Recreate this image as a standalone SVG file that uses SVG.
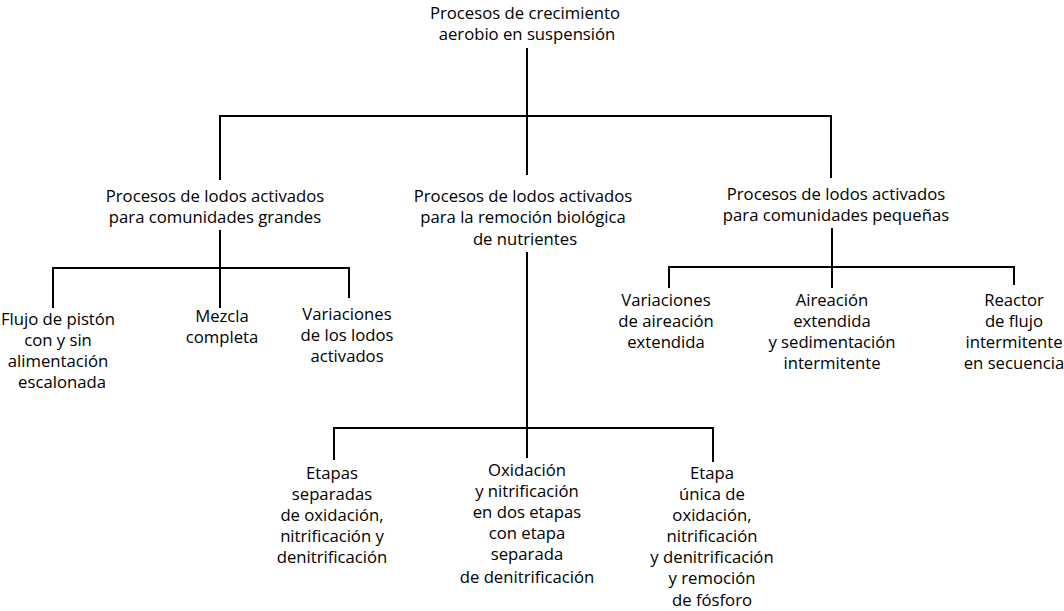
<svg xmlns="http://www.w3.org/2000/svg" width="1064" height="611" viewBox="0 0 1064 611">
<style>
text{font-family:"Open Sans","Noto Sans","DejaVu Sans",sans-serif;font-size:16.7px;fill:#000;text-anchor:middle}
.c{fill:none;stroke:#000;stroke-width:2}
</style>
<rect width="1064" height="611" fill="#fff"/>
<g id="connectors">
<path class="c" d="M527 48V175M220 180V116H831V178"/>
<path class="c" d="M220 230V268M53 308V268H349V298M220 268V308"/>
<path class="c" d="M527 252V458M334 460V428H713V462"/>
<path class="c" d="M832 228V288M669 288V267H1014V285"/>
</g>
<g id="root"><text x="525" y="19">Procesos de crecimiento</text><text x="527" y="40">aerobio en suspensión</text></g>
<g id="grandes"><text x="215" y="202">Procesos de lodos activados</text><text x="215" y="223">para comunidades grandes</text></g>
<g id="nutrientes"><text x="523" y="202">Procesos de lodos activados</text><text x="523" y="223">para la remoción biológica</text><text x="525" y="245">de nutrientes</text></g>
<g id="pequenas"><text x="836" y="200">Procesos de lodos activados</text><text x="836" y="221">para comunidades pequeñas</text></g>
<g id="piston"><text x="58" y="325">Flujo de pistón</text><text x="58" y="346">con y sin</text><text x="58" y="367">alimentación</text><text x="62" y="388">escalonada</text></g>
<g id="mezcla"><text x="222" y="322">Mezcla</text><text x="222" y="343">completa</text></g>
<g id="variaciones-lodos"><text x="347" y="320">Variaciones</text><text x="347" y="341">de los lodos</text><text x="347" y="362">activados</text></g>
<g id="etapas-separadas"><text x="332" y="479">Etapas</text><text x="332" y="500">separadas</text><text x="332" y="521">de oxidación,</text><text x="332" y="542">nitrificación y</text><text x="332" y="563">denitrificación</text></g>
<g id="oxidacion"><text x="527" y="476">Oxidación</text><text x="527" y="497">y nitrificación</text><text x="527" y="518">en dos etapas</text><text x="527" y="539">con etapa</text><text x="527" y="560">separada</text><text x="527" y="583">de denitrificación</text></g>
<g id="etapa-unica"><text x="712" y="479">Etapa</text><text x="712" y="500">única de</text><text x="712" y="521">oxidación,</text><text x="712" y="542">nitrificación</text><text x="712" y="563">y denitrificación</text><text x="712" y="584">y remoción</text><text x="712" y="606">de fósforo</text></g>
<g id="variaciones-aireacion"><text x="666" y="306">Variaciones</text><text x="666" y="327">de aireación</text><text x="666" y="348">extendida</text></g>
<g id="aireacion"><text x="832" y="306">Aireación</text><text x="832" y="327">extendida</text><text x="832" y="348">y sedimentación</text><text x="832" y="369">intermitente</text></g>
<g id="reactor"><text x="1014" y="306">Reactor</text><text x="1014" y="327">de flujo</text><text x="1014" y="348">intermitente</text><text x="1014" y="369">en secuencia</text></g>
</svg>
